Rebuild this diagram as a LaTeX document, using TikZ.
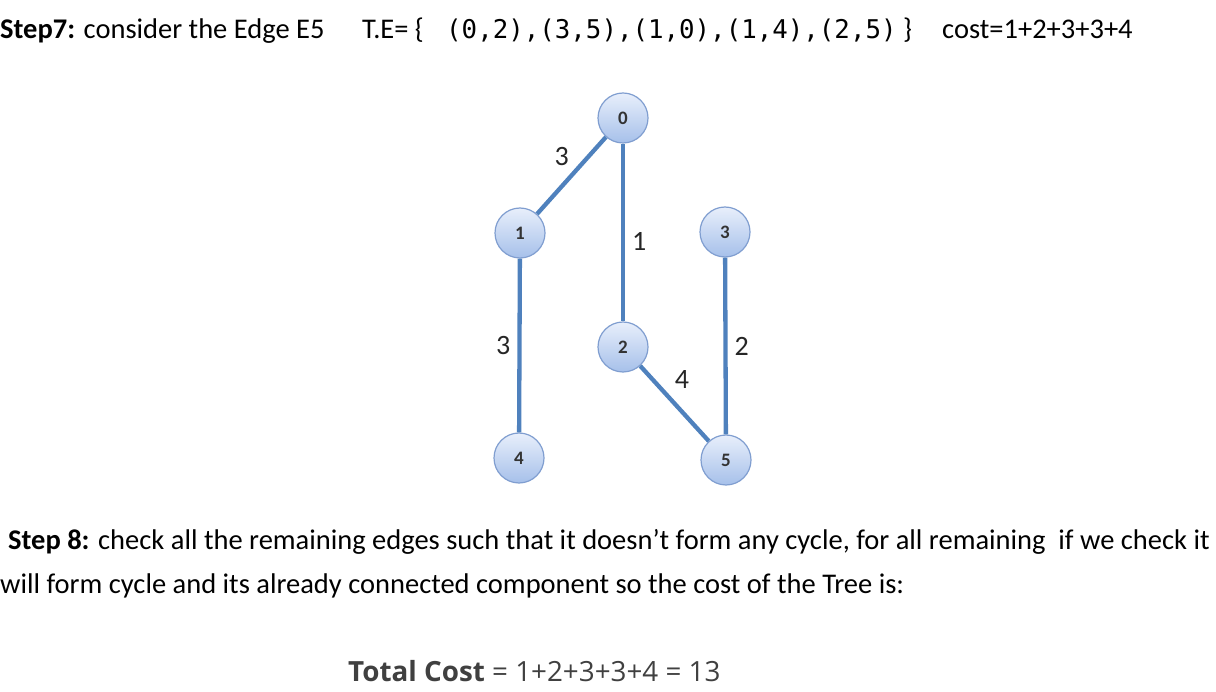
\documentclass[tikz,border=0pt]{standalone}
\usepackage{fontspec}
\setmainfont{Carlito}
\newfontfamily\tefont{DejaVu Sans Mono}
\newfontfamily\totalfont{Open Sans}
\usetikzlibrary{shadings}
\definecolor{edgeblue}{RGB}{79,129,189}
\definecolor{vtxtop}{RGB}{232,239,251}
\definecolor{vtxbot}{RGB}{166,192,234}
\definecolor{vtxline}{RGB}{128,158,208}
\definecolor{totalgray}{RGB}{64,64,64}
\tikzset{
  vertex/.style={circle, minimum size=50pt, inner sep=0pt, draw=vtxline, line width=1.2pt,
    top color=vtxtop, bottom color=vtxbot, font=\fontsize{19}{19}\selectfont\bfseries, text=black!80},
  weight/.style={font=\fontsize{28}{28}\selectfont, text=black!85, inner sep=2pt},
  txt/.style={anchor=base west, inner sep=0pt, font=\fontsize{28.5}{28.5}\selectfont}
}
\begin{document}
\begin{tikzpicture}[x=1pt,y=-1pt]
      \useasboundingbox (0,0) rectangle (1216,692);
      \draw
        (623,118) node[vertex] (0){0}
        (520,233) node[vertex] (1){1}
        (623,347) node[vertex] (2){2}
        (725,232) node[vertex] (3){3}
        (519,458) node[vertex] (4){4}
        (726,460) node[vertex] (5){5};
      \begin{scope}[-, edgeblue, line width=4.3pt]
        \draw (1) to node[weight, above left=2pt, pos=0.55] {3} (0);
        \draw (0) to node[weight, right=5pt, pos=0.55] {1} (2);
        \draw (1) to node[weight, left=5pt] {3} (4);
        \draw (3) to node[weight, right=5pt] {2} (5);
        \draw (2) to node[weight, above right=3pt, pos=0.4] {4} (5);
      \end{scope}
      % header line
      \node[txt] (step7) at (0,39) {\textbf{Step7:} consider the Edge E5};
      \node[txt] (te) at (362,39) {T.E= \{};
      \node[txt, font=\tefont\fontsize{25.8}{25.8}\selectfont] (tree) at (446,39) {(0,2),(3,5),(1,0),(1,4),(2,5)};
      \node[txt] (close) at (903,39) {\}};
      \node[txt] (cost) at (942,39) {cost=1+2+3+3+4};
      % step 8 text
      \node[txt] (step8) at (8,549) {\textbf{Step 8:} check all the remaining edges such that it doesn’t form any cycle, for all remaining\ \ if we check it};
      \node[txt] (form) at (0,593) {will form cycle and its already connected component so the cost of the Tree is:};
      \node[txt, font=\totalfont\fontsize{27.8}{27.8}\selectfont, text=totalgray] (total) at (348,681) {\textbf{Total Cost} = 1+2+3+3+4 = 13};
\end{tikzpicture}
\end{document}
